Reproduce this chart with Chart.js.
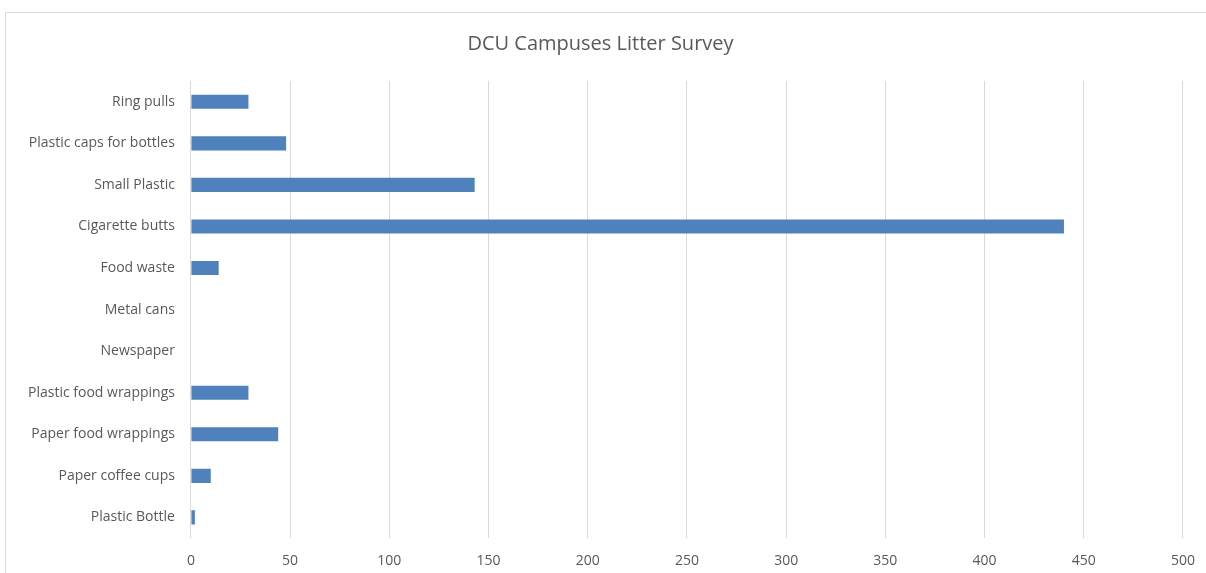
<!DOCTYPE html>
<html>
<head>
<meta charset="utf-8">
<script src="https://cdn.jsdelivr.net/npm/chart.js@4/dist/chart.umd.min.js"></script>
<style>
  html, body { margin: 0; padding: 0; background: #fff; overflow: hidden; }
  #wrap { position: absolute; left: 0; top: 0; width: 1206px; height: 573px; overflow: hidden; }
  #frame { position: absolute; left: 5px; top: 12px; width: 1210px; height: 600px; border: 1px solid #d9d9d9; box-sizing: border-box; }
  canvas { position: absolute; left: 0; top: 0; }
</style>
</head>
<body>
<div id="wrap">
  <div id="frame"></div>
  <canvas id="chartLitter" width="1209" height="583"></canvas>
</div>
<script>
var categorias = ["Ring pulls", "Plastic caps for bottles", "Small Plastic", "Cigarette butts",
  "Food waste", "Metal cans", "Newspaper", "Plastic food wrappings",
  "Paper food wrappings", "Paper coffee cups", "Plastic Bottle"];
var quantidades = [29, 48, 143, 440, 14, 0, 0, 29, 44, 10, 2];
var titulo = "DCU Campuses Litter Survey";
var eixoMin = 0, eixoMax = 500, passo = 50;

function plot(){
  var ctx = document.getElementById("chartLitter");
  new Chart(ctx, {
    type: 'bar',
    data: {
      labels: categorias,
      datasets: [{
        label: "Litter",
        data: quantidades,
        backgroundColor: '#4f81bd',
        borderColor: '#4f81bd',
        borderWidth: 0,
        barPercentage: 0.68,
        categoryPercentage: 0.5
      }]
    },
    options: {
      indexAxis: 'y',
      responsive: false,
      animation: false,
      layout: { padding: { left: 12, right: 20, top: 14, bottom: 0 } },
      plugins: {
        legend: { display: false },
        tooltip: { enabled: false },
        title: {
          display: true,
          text: titulo,
          color: '#595959',
          font: { family: 'Open Sans', size: 20, weight: 'normal' },
          padding: { top: 18, bottom: 25 }
        }
      },
      scales: {
        x: {
          min: eixoMin,
          max: eixoMax,
          ticks: {
            stepSize: passo,
            color: '#595959',
            font: { family: 'Open Sans', size: 14 },
            padding: 14
          },
          grid: { color: '#d9d9d9', lineWidth: 1, drawTicks: false },
          border: { display: false }
        },
        y: {
          ticks: {
            color: '#595959',
            font: { family: 'Open Sans', size: 14 },
            padding: 16
          },
          grid: { display: false, drawTicks: false },
          border: { display: false }
        }
      }
    }
  });
}
plot();
</script>
</body>
</html>
